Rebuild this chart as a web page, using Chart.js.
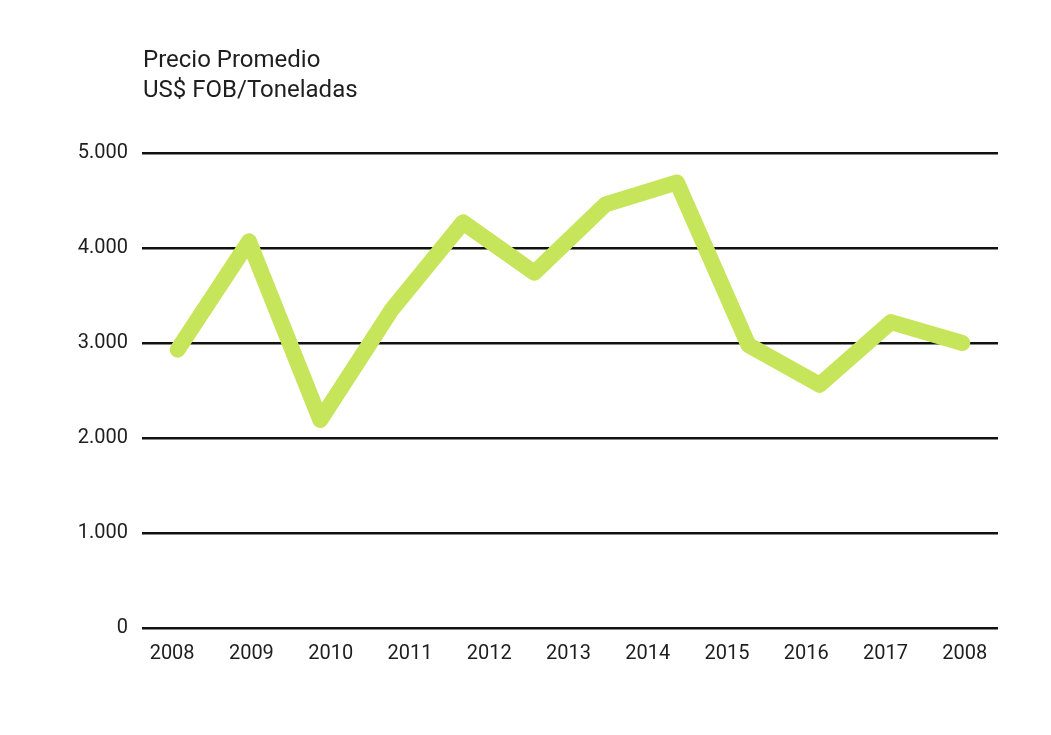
<!DOCTYPE html>
<html>
<head>
<meta charset="utf-8">
<script src="https://cdn.jsdelivr.net/npm/chart.js@4/dist/chart.umd.min.js"></script>
<style>
  html, body { margin: 0; padding: 0; background: #fff; }
  #wrap { position: relative; width: 1051px; height: 735px; }
  #title {
    position: absolute; left: 143px; top: 44px;
    font-family: Roboto, sans-serif; font-size: 24px; line-height: 30px; color: #1e1e1e;
  }
</style>
</head>
<body>
<div id="wrap">
  <div id="title">Precio Promedio<br>US$ FOB/Toneladas</div>
  <canvas id="chart" width="1051" height="735"></canvas>
</div>
<script>
// etiquetas del eje X tal como aparecen (11) y valores de la serie (12 puntos)
const yearLabels = ['2008', '2009', '2010', '2011', '2012', '2013', '2014', '2015', '2016', '2017', '2008'];
const prices = [2930, 4070, 2190, 3350, 4270, 3740, 4460, 4690, 2980, 2560, 3220, 3000];
const yTicks = [0, 1000, 2000, 3000, 4000, 5000];

const lineColor = '#c6e55a';
const textColor = '#1e1e1e';

const ctx = document.getElementById('chart').getContext('2d');

new Chart(ctx, {
  type: 'line',
  data: {
    datasets: [{
      data: prices.map((v, i) => ({ x: i, y: v })),
      borderColor: lineColor,
      borderWidth: 16,
      borderJoinStyle: 'round',
      borderCapStyle: 'round',
      pointRadius: 0,
      tension: 0,
      xAxisID: 'x',
      yAxisID: 'y'
    }]
  },
  options: {
    responsive: false,
    animation: false,
    layout: { padding: { left: 0, right: 53, top: 153, bottom: 57 } },
    plugins: { legend: { display: false }, tooltip: { enabled: false } },
    scales: {
      x: {
        type: 'linear',
        display: false,
        min: -0.5,
        max: prices.length - 0.5
      },
      years: {
        type: 'linear',
        position: 'bottom',
        min: -0.38,
        max: 10.42,
        grid: { display: false, drawTicks: false },
        border: { display: false },
        afterBuildTicks: axis => { axis.ticks = yearLabels.map((l, i) => ({ value: i })); },
        afterFit: axis => { axis.height = 50; },
        ticks: {
          autoSkip: false,
          maxRotation: 0,
          padding: 14,
          color: textColor,
          font: { family: 'Roboto', size: 20 },
          callback: v => yearLabels[v]
        }
      },
      y: {
        min: 0,
        max: 5000,
        afterBuildTicks: axis => { axis.ticks = yTicks.map(v => ({ value: v })); },
        afterFit: axis => { axis.width = 142; },
        grid: { color: '#111', lineWidth: 2.5, drawTicks: false },
        border: { display: false },
        ticks: {
          padding: 14,
          color: textColor,
          font: { family: 'Roboto', size: 20 },
          callback: v => v.toLocaleString('de-DE')
        }
      }
    }
  }
});
</script>
</body>
</html>
